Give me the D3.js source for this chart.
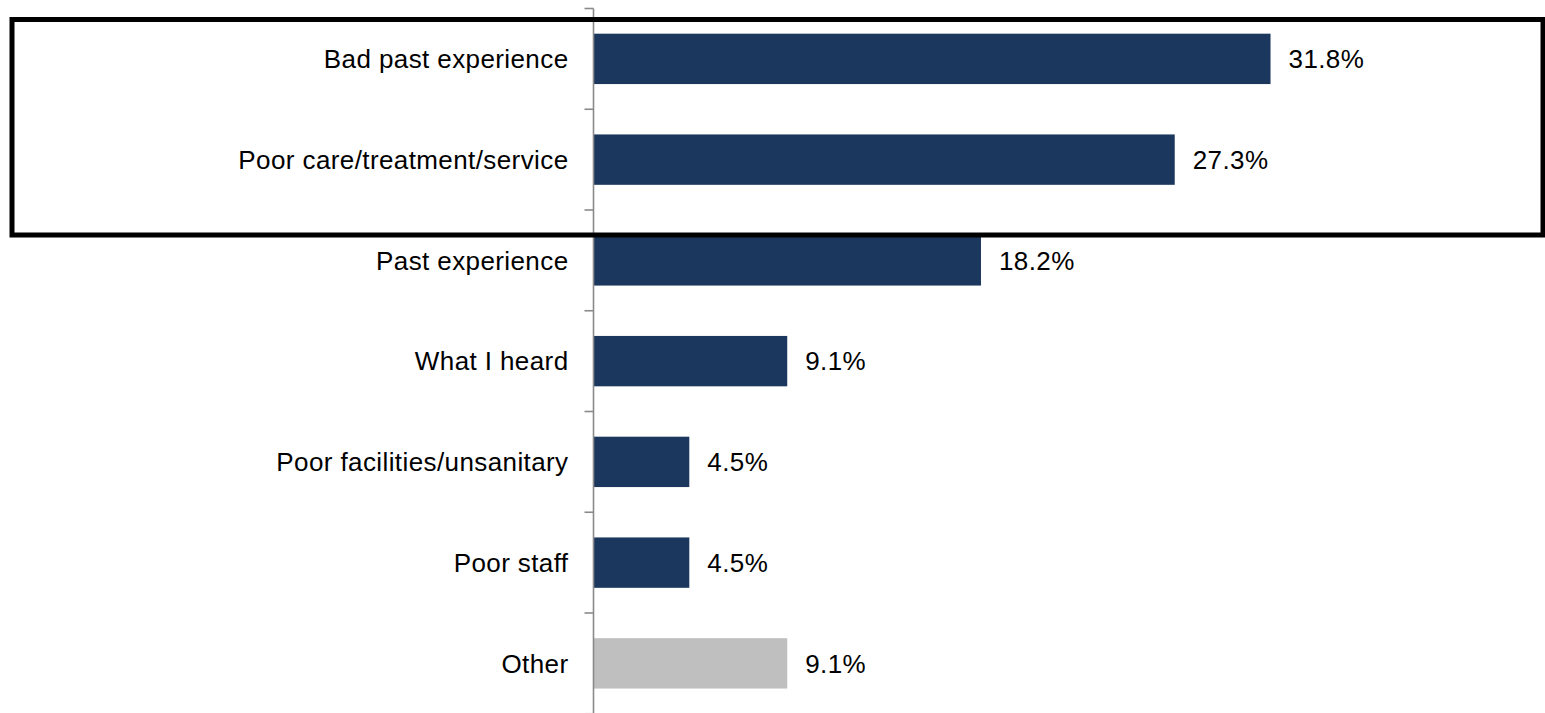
<!DOCTYPE html>
<html>
<head>
<meta charset="utf-8">
<script src="https://cdn.jsdelivr.net/npm/d3@7"></script>
<style>
  html, body { margin: 0; padding: 0; background: #ffffff; }
  svg { display: block; }
  text { font-family: "Liberation Sans", Arial, Helvetica, sans-serif; fill: #000; letter-spacing: 0.4px; }
</style>
</head>
<body>
<svg id="chart" width="1545" height="713"></svg>
<script>
// Reasons given, in display order (top to bottom)
const categories = [
  "Bad past experience",
  "Poor care/treatment/service",
  "Past experience",
  "What I heard",
  "Poor facilities/unsanitary",
  "Poor staff",
  "Other"
];
// Share of respondents, percent
const values = [31.8, 27.3, 18.2, 9.1, 4.5, 4.5, 9.1];
// Categories drawn in the muted colour
const mutedCategories = ["Other"];
// Categories enclosed by the highlight frame
const highlighted = ["Bad past experience", "Poor care/treatment/service"];

const W = 1545, H = 713;
const svg = d3.select("#chart");

const axisX = 593.5;
const x = d3.scaleLinear().domain([0, 40]).range([axisX, axisX + 40 * 21.29]);

const y = d3.scaleBand()
  .domain(categories)
  .range([8.5, 713.75])
  .paddingInner(0.5)
  .paddingOuter(0.25);

const step = y.step();
const barColor = "#1b375e";
const mutedColor = "#bfbfbf";
const axisColor = "#8a8a8a";
const fontSize = 26;

const data = categories.map((c, i) => ({ cat: c, value: values[i] }));

// Bars
svg.append("g")
  .selectAll("rect")
  .data(data)
  .join("rect")
  .attr("x", x(0))
  .attr("y", d => y(d.cat))
  .attr("width", d => x(d.value) - x(0))
  .attr("height", y.bandwidth())
  .attr("fill", d => mutedCategories.includes(d.cat) ? mutedColor : barColor);

// Category axis: a vertical line with ticks at band boundaries
const axisG = svg.append("g");
axisG.append("line")
  .attr("x1", axisX).attr("x2", axisX)
  .attr("y1", y.range()[0]).attr("y2", y.range()[1])
  .attr("stroke", axisColor).attr("stroke-width", 1.6);

const boundaries = categories.map(c => y(c) - step * y.paddingOuter());
boundaries.push(y.range()[1]);
axisG.selectAll("line.tick")
  .data(boundaries)
  .join("line")
  .attr("class", "tick")
  .attr("x1", axisX - 9).attr("x2", axisX)
  .attr("y1", d => d).attr("y2", d => d)
  .attr("stroke", axisColor).attr("stroke-width", 1.6);

// Category labels
svg.append("g")
  .selectAll("text")
  .data(data)
  .join("text")
  .attr("x", axisX - 25)
  .attr("y", d => y(d.cat) + y.bandwidth() / 2)
  .attr("dy", "0.36em")
  .attr("text-anchor", "end")
  .style("font-size", fontSize + "px")
  .text(d => d.cat);

// Value labels
const fmt = d => d3.format(".1f")(d) + "%";
svg.append("g")
  .selectAll("text")
  .data(data)
  .join("text")
  .attr("x", d => x(d.value) + 18)
  .attr("y", d => y(d.cat) + y.bandwidth() / 2)
  .attr("dy", "0.36em")
  .attr("text-anchor", "start")
  .style("font-size", fontSize + "px")
  .text(d => fmt(d.value));

// Highlight frame around the leading reasons
const first = highlighted[0], last = highlighted[highlighted.length - 1];
const frameTop = y(first) - step * 0.25 + 11;
const frameBottom = y(last) + y.bandwidth() + step * 0.25 + 25;
svg.append("rect")
  .attr("x", 12)
  .attr("y", frameTop)
  .attr("width", W - 2 - 12)
  .attr("height", frameBottom - frameTop)
  .attr("fill", "none")
  .attr("stroke", "#000")
  .attr("stroke-width", 5);
</script>
</body>
</html>
